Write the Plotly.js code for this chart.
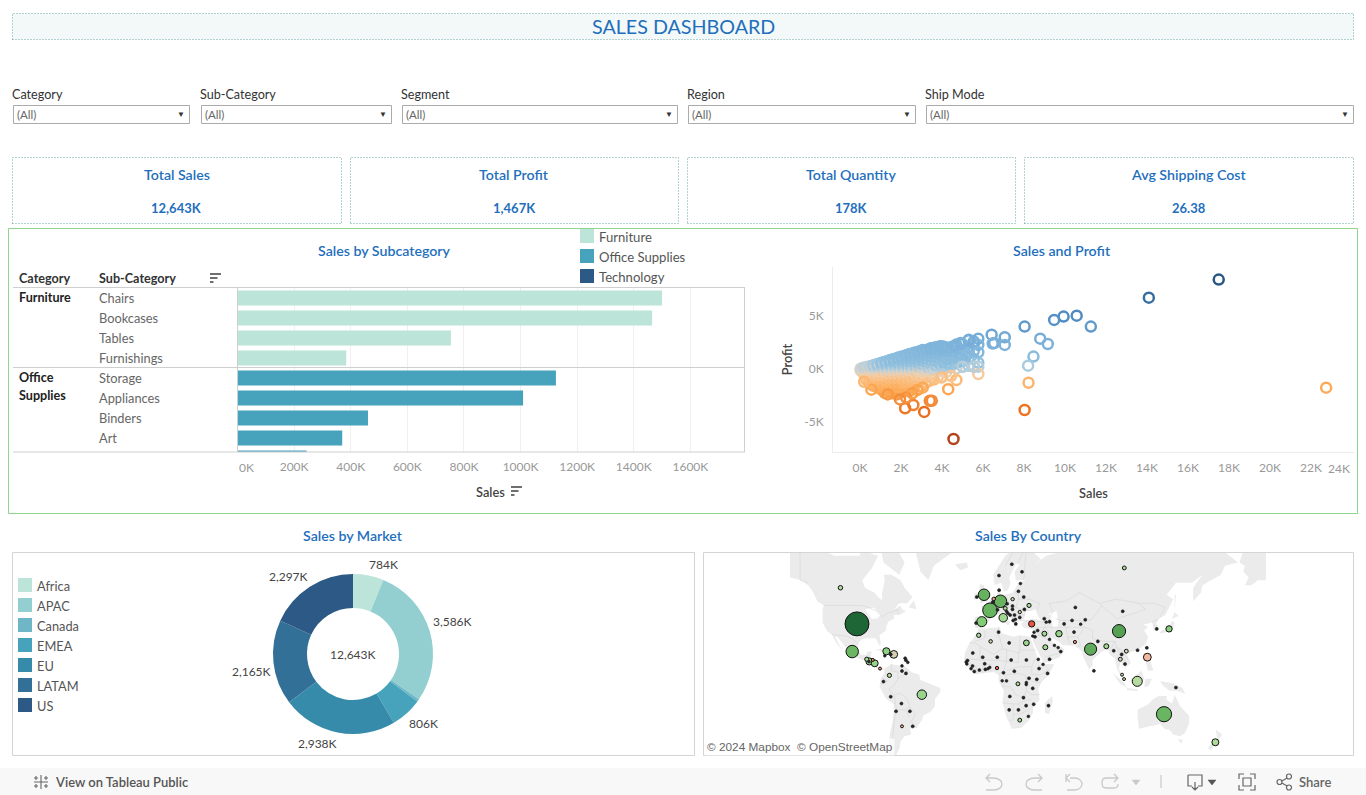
<!DOCTYPE html>
<html><head><meta charset="utf-8">
<script src="https://cdn.plot.ly/plotly-3.0.1.min.js"></script>
<style>html,body{margin:0;padding:0;background:#fff;overflow:hidden}#chart{width:1366px;height:795px}</style>
</head><body><div id="chart"></div>
<script>
// ---------- DATA ----------
const subCategories = ['Chairs','Bookcases','Tables','Furnishings','Storage','Appliances','Binders','Art','Paper'];
const subCategorySales = [1500,1465,754,384,1125,1009,461,370,244];
const subCategoryGroup = ['Furniture','Furniture','Furniture','Furniture','Office Supplies','Office Supplies','Office Supplies','Office Supplies','Office Supplies'];
const groupNames = ['Furniture','Office Supplies','Technology'];
const barTicks = [0,200,400,600,800,1000,1200,1400,1600];

const markets = ['Africa','APAC','Canada','EMEA','EU','LATAM','US'];
const marketSales = [784,3586,66,806,2938,2165,2297];
const marketLabels = ['784K','3,586K','','806K','2,938K','2,165K','2,297K'];

const filterNames = ['Category','Sub-Category','Segment','Region','Ship Mode'];
const kpiNames = ['Total Sales','Total Profit','Total Quantity','Avg Shipping Cost'];
const kpiValues = ['12,643K','1,467K','178K','26.38'];

// scatter: sales (K) per column with the profits (K) read in that column
const fanSales = [0.03,0.15,0.3,0.45,0.6,0.8,1.0,1.2,1.4,1.6,1.8,2.0,2.2,2.4,2.6,2.8,3.0,3.2,3.4,3.6,3.8,4.0,4.2,4.4,4.7,5.0,5.3,5.55];
const fanProfits = [
 [-0.12,0.02],[-0.35,-0.12,0.03,0.1],[-1.0,-0.7,-0.42,-0.18,0,0.15],[-1.3,-1.0,-0.72,-0.45,-0.2,0.02,0.22],
 [-1.55,-1.15,-0.85,-0.55,-0.28,-0.05,0.12,0.3],[-1.7,-1.35,-1.0,-0.72,-0.42,-0.15,0.08,0.25,0.42],
 [-1.9,-1.55,-1.2,-0.88,-0.55,-0.25,0,0.2,0.38,0.55],[-2.25,-1.85,-1.5,-1.15,-0.8,-0.45,-0.15,0.08,0.3,0.5,0.66],
 [-2.1,-1.75,-1.4,-1.05,-0.7,-0.35,-0.08,0.18,0.4,0.6,0.78],[-2.3,-1.9,-1.55,-1.15,-0.8,-0.45,-0.12,0.15,0.38,0.6,0.8,0.9],
 [-2.4,-2.0,-1.6,-1.2,-0.8,-0.45,-0.1,0.2,0.45,0.7,0.9,1.02],[-2.2,-1.8,-1.35,-0.95,-0.55,-0.2,0.1,0.35,0.6,0.85,1.05,1.15],
 [-2.05,-1.5,-1.1,-0.7,-0.3,0.02,0.3,0.55,0.8,1.05,1.25],[-2.1,-1.6,-1.0,-0.55,-0.2,0.1,0.4,0.7,0.95,1.2,1.38],
 [-1.8,-1.2,-0.65,-0.2,0.15,0.45,0.75,1.05,1.3,1.5],[-1.9,-1.3,-0.75,-0.25,0.15,0.5,0.85,1.15,1.4,1.58],
 [-1.6,-1.05,-0.5,-0.05,0.35,0.7,1.0,1.3,1.55,1.7],[-1.3,-0.8,-0.3,0.15,0.55,0.9,1.2,1.5,1.75],
 [-1.1,-0.6,-0.2,0.3,0.7,1.05,1.4,1.7,1.88],[-1.0,-0.4,0.1,0.5,0.9,1.3,1.6,1.95],
 [-0.7,-0.15,0.35,0.75,1.15,1.55,1.85,2.05],[-0.75,-0.2,0.2,0.6,1.0,1.4,1.75,2.1],
 [-0.3,0.3,0.8,1.25,1.6,1.9],[-0.6,0.15,0.6,1.0,1.4,1.85],[0.05,0.55,1.05,1.5,2.0,2.3],
 [0.2,0.75,1.3,1.8,2.35],[0.3,1.0,1.55,2.1,2.7],[0.25,0.95,1.7,2.35,2.6]];
const denseSales = [0.08,0.22,0.38,0.52,0.7,0.9,1.1,1.3,1.5,1.7,1.9,2.1,2.3,2.5,2.7,2.9,3.1,3.3,3.5,3.7,3.9,4.1,4.3,4.5];
const denseProfits = [
 [-0.2,-0.05,0.05],[-0.55,-0.25,-0.05,0.08,0.14],[-0.85,-0.55,-0.3,-0.1,0.05,0.2],[-1.15,-0.85,-0.6,-0.35,-0.12,0.1,0.26],
 [-1.45,-1.15,-0.9,-0.65,-0.35,-0.1,0.1,0.28,0.38],[-1.6,-1.3,-1.05,-0.8,-0.5,-0.25,-0.02,0.18,0.34,0.48],
 [-1.75,-1.4,-1.1,-0.75,-0.45,-0.15,0.05,0.28,0.45,0.6],[-1.95,-1.6,-1.3,-0.95,-0.6,-0.3,-0.02,0.22,0.42,0.6,0.7],
 [-2.0,-1.65,-1.3,-0.95,-0.6,-0.25,0.02,0.28,0.5,0.7,0.85],[-2.15,-1.75,-1.4,-1.0,-0.6,-0.25,0.05,0.3,0.55,0.75,0.92],
 [-2.2,-1.8,-1.4,-1.0,-0.65,-0.3,0.02,0.3,0.55,0.8,1.0,1.08],[-1.6,-1.2,-0.8,-0.4,-0.05,0.22,0.48,0.72,0.95,1.18],
 [-1.3,-0.9,-0.45,-0.1,0.2,0.45,0.7,0.95,1.18,1.32],[-1.4,-0.85,-0.35,0,0.3,0.6,0.88,1.12,1.38],
 [-1.0,-0.45,-0.05,0.3,0.6,0.9,1.2,1.45,1.55],[-0.9,-0.4,0.05,0.4,0.7,1.0,1.25,1.5,1.65],
 [-0.7,-0.2,0.2,0.5,0.85,1.15,1.4,1.65,1.75],[-0.5,-0.05,0.35,0.75,1.05,1.35,1.6,1.82],
 [-0.8,-0.3,0.2,0.6,0.95,1.25,1.55,1.8,1.95],[0.25,0.65,1.0,1.4,1.7,2.0],[0.1,0.5,0.9,1.3,1.65,1.95,2.15],
 [0.45,0.85,1.2,1.55,1.85,2.05],[0.35,0.75,1.1,1.45,1.75,2.0],[0.5,0.95,1.3,1.65,2.1]];
const thirdSales = [0.34,0.5,0.66,0.85,1.05,1.25,1.45,1.65,1.85,2.05,2.25,2.45,2.65,2.85,3.05,3.25,3.45,3.65,3.85,4.05,4.25];
const thirdProfits = [
 [-0.65,-0.25,-0.02,0.12],[-0.95,-0.5,-0.22,0.05,0.18],[-1.25,-0.95,-0.45,-0.2,0.02,0.2,0.33],[-1.2,-0.9,-0.6,-0.3,-0.05,0.14,0.32,0.44],
 [-1.65,-1.3,-0.95,-0.62,-0.32,0.1,0.28,0.46,0.58],[-1.7,-1.4,-1.05,-0.7,-0.4,-0.1,0.14,0.36,0.56,0.68],
 [-1.9,-1.55,-1.2,-0.85,-0.5,-0.15,0.1,0.34,0.56,0.74,0.82],[-2.0,-1.65,-1.25,-0.9,-0.5,-0.15,0.1,0.36,0.62,0.82,0.95],
 [-2.1,-1.7,-1.3,-0.9,-0.5,-0.15,0.12,0.38,0.62,0.88,1.05],[-1.7,-1.3,-0.9,-0.45,-0.1,0.18,0.44,0.7,0.98,1.12],
 [-1.2,-0.8,-0.4,-0.05,0.25,0.5,0.78,1.02,1.28],[-1.1,-0.65,-0.25,0.05,0.35,0.65,0.92,1.18,1.42],
 [-0.85,-0.3,0.05,0.38,0.68,0.98,1.25,1.5],[-0.6,-0.15,0.2,0.55,0.85,1.12,1.38,1.62],
 [-0.35,0.1,0.45,0.78,1.08,1.35,1.62,1.78],[-0.15,0.25,0.62,0.95,1.28,1.55,1.8],
 [0.1,0.45,0.82,1.18,1.5,1.78,1.95],[0.05,0.4,0.78,1.15,1.48,1.8,2.02],[0.25,0.6,0.98,1.35,1.7,2.08],
 [0.3,0.7,1.1,1.48,1.78,2.12],[0.55,0.95,1.35,1.7,2.0]];
const outlierSales = [17.5,14.09,11.26,10.57,9.93,9.47,8.79,9.16,8.46,8.2,8.22,8.03,8.03,22.74,4.56,7.06,7.06,6.42,6.47,6.55,5.77,5.77,5.77,5.77,5.77,5.77,5.3,4.9,4.63,4.0,5.2,5.0,5.55,4.7,4.45,4.3,3.96,3.5,3.4,3.13,2.6,2.2,2.25,1.95,3.06,2.8,2.55,0.55,0.2,1.35];
const outlierProfit = [8.43,6.73,4.0,5.03,4.94,4.63,2.86,2.36,1.17,0.31,-1.3,-3.87,4.0,-1.76,-6.6,2.99,2.27,3.24,2.4,2.45,2.86,2.27,1.58,0.6,0.22,-0.47,2.75,2.44,2.2,2.05,1.3,0.2,0.2,-1.04,-0.66,-1.9,-0.8,-3.0,-3.0,-4.05,-3.4,-3.7,-2.7,-2.87,-1.76,-2.0,-2.3,-1.95,-1.2,-2.4];
const salesTicks = [0,2,4,6,8,10,12,14,16,18,20,22,24];
const profitTicks = [-5,0,5];

// map: one entry per country
const countryNames = ['United States','Australia','France','China','Germany','Mexico','India','United Kingdom','Indonesia','Spain','Brazil','Italy','Philippines','Dominican Republic','Cuba','Honduras','Nicaragua','New Zealand','Turkey','Japan','Iran','Egypt','Bangladesh','Iraq','Saudi Arabia','Canada','Morocco','Guatemala','Ukraine','Austria','Colombia','Russia','South Africa','Dem. Rep. Congo','Nigeria','Thailand','Vietnam','Poland','Romania','Algeria','Netherlands','Pakistan','Argentina','Belize','Panama','Malaysia','Singapore',
 'Mauritania','Mali','Niger','Chad','Sudan','Senegal','Gambia','Guinea-Bissau','Guinea','Sierra Leone','Liberia','Ivory Coast','Ghana','Togo','Benin','Burkina Faso','Libya','Tunisia','Cameroon','Central African Rep.','Gabon','Congo','Uganda','Kenya','Somalia','Ethiopia','Tanzania','Angola','Zambia','Zimbabwe','Mozambique','Madagascar','Namibia','Botswana','Swaziland','Rwanda','Burundi','Djibouti','Eritrea',
 'Belgium','Sweden','Norway','Finland','Denmark','Ireland','Lithuania','Belarus','Moldova','Czech Republic','Hungary','Slovakia','Serbia','Bulgaria','Greece','Albania','Croatia','Bosnia','Slovenia','Macedonia','Portugal','Switzerland','Estonia',
 'Syria','Lebanon','Israel','Jordan','Kuwait','Qatar','UAE','Oman','Yemen','Georgia','Armenia','Azerbaijan','Turkmenistan','Uzbekistan','Tajikistan','Kyrgyzstan','Kazakhstan','Afghanistan','Mongolia','Nepal','Sri Lanka','Myanmar','Cambodia','Laos','Taiwan','Hong Kong','South Korea','Papua New Guinea',
 'El Salvador','Jamaica','Haiti','Martinique','Guadeloupe','Barbados','Trinidad','Venezuela','Guyana','Ecuador','Peru','Bolivia','Chile','Paraguay','Uruguay'];
const countryLon = [-98,134,2.5,100,10.4,-101.6,78.5,-2,113.8,-3.7,-49,12.5,121.4,-70.2,-75.8,-88.6,-84.6,172.8,34,137.8,54.6,30,90.4,43.6,44.3,-110.5,-6,-90.6,32,14,-73.5,104,25,23.6,7.8,101,105.5,19.6,25,3,5.3,66.7,-64,-86,-80.6,102.3,103.8,
 -10.5,-3,8,18.5,30,-14.5,-15.5,-15,-10.7,-11.8,-9.4,-5.5,-1,1,2.3,-1.5,17,9,12.7,20.9,11.7,15,32,37.9,46,39.6,34.8,17.5,27.8,29.8,35.5,46.7,17,24,31.5,30,29.9,42.6,39,
 4.6,19,9.3,26.7,9.4,-7.5,24,28,28.5,15.5,19.5,19.5,21,25,22,20,16,17.7,15,21.7,-8,8.2,25.5,
 38.5,35.8,34.8,36.5,47.5,51.2,54,56,47.5,43.5,45,47.5,58.5,64.5,71,74.5,67,66,102.8,84,81,96,104.5,102,121,114,128.5,143,
 -88.9,-77,-72.5,-61,-61.6,-59.6,-64,-64,-61,-78,-72.5,-64.4,-68.5,-58,-55.9];
const countryLat = [39,-25,46.5,34.6,51,21,22.7,54,-1,40.3,-11,42.5,17,19,21.2,13.9,12.5,-42.5,39,36,33,27,24.7,33,24,57,32,15.5,49,47.5,3.5,64.3,-29,-2.9,9,15.5,21.3,52,45.6,28,52.1,27.6,-33,15,8.6,4,0.7,
 20,17,17,15,15,14.5,13.4,12,10.5,8.5,6.4,7.5,8,8.5,9.5,12.2,27,34,5.5,6.6,-0.6,-0.7,1.3,0.5,5,8.6,-6.3,-12.3,-13.2,-19,-18,-19,-22,-22,-26.5,-2,-3.4,11.7,15.4,
 50.6,65.5,61.7,63,56,53,55.5,53,47,49.8,47,48.7,44,42.7,39,41,45,44,46,41.6,39.5,46.8,58.7,
 35,33.9,31.5,31,29.3,25.3,23.8,21,15.5,42,40,40.3,39,41,38.8,41.4,48,34,46,28,6.9,21.6,12,19,23.6,22,36,-5.7,
 13.7,18,19,14.7,16.2,13.2,10.6,6.8,5,-1.2,-12.5,-17.5,-23,-23,-33];
const countrySales = [2297,925,858,700,628,622,589,528,404,400,361,289,246,240,206,200,190,195,158,160,165,135,100,100,100,80,75,70,70,60,70,60,60,60,45,60,60,45,45,50,50,40,35,35,35,35,35,
 30,30,30,30,30,30,25,25,30,25,30,30,30,25,25,30,30,30,30,30,25,25,30,30,30,30,30,30,30,30,30,30,30,30,25,25,25,25,25,
 30,30,30,30,30,30,30,30,30,30,30,30,30,30,30,30,30,30,25,25,30,30,25,
 30,25,25,30,25,25,25,30,30,30,25,30,30,30,25,30,30,30,30,30,30,30,30,30,30,30,30,30,
 25,25,30,30,30,25,25,30,30,30,30,30,30,30,30];
const countryProfit = [286,103,109,150,107,102,129,111,15,55,35,30,-15,2,45,40,38,20,-99,50,40,35,30,30,30,18,25,25,25,20,22,22,25,22,-80,3,4,5,3,5,-30,-40,-30,-50,-50,8,8,
 5,5,5,5,5,5,5,5,5,5,5,5,5,5,5,5,5,5,5,5,5,5,5,5,5,5,5,5,5,5,5,5,5,5,5,5,5,
 5,5,5,5,5,5,5,5,5,5,5,5,5,5,5,5,5,5,5,5,5,5,5,
 5,5,5,5,5,5,5,5,5,5,5,5,5,5,5,5,5,5,5,5,5,5,5,5,5,5,5,5,
 5,5,5,5,5,5,5,5,5,5,5,5,5,5,5];

// land and border outlines, lon/lat
const landOutlines = [
 [[-148.6,72],[-140,70],[-128,70],[-115,68],[-108,68],[-96,68],[-95,69],[-90,69],[-82,68],[-87,64],[-94,60],[-92,57],[-85,55],[-82,53],[-79,51.5],[-79,55],[-77,60],[-78,62],[-72,62],[-65,60],[-62,57],[-56,53],[-60,50],[-66,50],[-70,47],[-65,49],[-64,47],[-61,46],[-66,44],[-70,44],[-70,42],[-74,40.5],[-76,37],[-76,35],[-81,32],[-80,27],[-81,25],[-82.5,28],[-84,30],[-89,30],[-94,29.5],[-97,27],[-98,22],[-95,18.5],[-91,18.5],[-90,21],[-87,21],[-88,16],[-84,15.5],[-83.5,11],[-81,9],[-77.5,8.5],[-78.5,7.5],[-81,7.5],[-85,10],[-88,13],[-92,14.5],[-96,16],[-102,18],[-105,20],[-106,23],[-109,27],[-113,31],[-114.5,31],[-112,26],[-110,23],[-112,25],[-115,29],[-117,32.5],[-120.5,34.5],[-122.5,37.5],[-124,40],[-124,47],[-123,49],[-128,51],[-131,55],[-135,58],[-140,60],[-148.6,61]],
 [[191,66],[193,68.5],[197,71],[211,72],[211,60],[205,60],[200,58],[195,58],[198,61],[194,63],[195,65]],
 [[-80,73],[-68,70],[-62,66],[-66,62],[-72,64],[-78,66],[-80,70]],[[-117,72],[-105,73],[-102,69],[-115,69]],
 [[-54,72],[-53,68],[-50,63],[-44,60],[-40,65],[-30,68],[-22,70],[-20,75],[-54,75]],
 [[-24,65.5],[-15,66],[-14,64.5],[-20,63.5]],[[-59,48],[-55,51.5],[-53,47]],
 [[-85,22],[-80,23],[-74,20],[-77,20],[-82,22]],[[-74,19.5],[-69,19.5],[-69,18.3],[-74,18]],
 [[-77,8.5],[-72,12],[-68,11],[-62,10.5],[-57,6],[-51,4],[-50,0],[-44,-2.5],[-35,-6],[-35,-9],[-39,-14],[-39,-19],[-42,-23],[-48,-26],[-49,-29],[-53,-34],[-58,-34.5],[-57,-38],[-62,-39],[-65,-42],[-66,-46],[-69,-50],[-69,-55],[-74,-52],[-74,-44],[-73,-37],[-71,-30],[-70,-18],[-76,-14],[-81,-5],[-80,1],[-78,4]],
 [[-6,36],[10,37],[11,33.5],[20,31],[25,32],[33,31],[34,28],[37,21],[39,15],[43,12],[51,12],[47,4],[41,-2],[39,-7],[40,-15],[35,-20],[35,-24],[32,-29],[26,-34],[19,-34.5],[15,-27],[12,-17],[13,-8],[9,-1],[9,4],[5,6],[-3,5],[-8,4.5],[-13,8.5],[-17,14.5],[-16.5,20],[-13,27],[-10,30]],
 [[49.5,-12],[50,-16],[47,-25],[44,-24],[44,-17]],
 [[-9,37],[-9,43],[-2,43.5],[-1,46],[-4.5,48.5],[2,51],[8,54],[8.5,57],[10.5,57],[10,54],[14,54],[20,55],[24,59],[30,60],[22,60],[21,63],[25,65.5],[22,65.5],[17,61],[18,59],[16,56],[13,55.5],[11,59],[6,58],[5,62],[14,68],[25,71],[32,70],[41,67],[35,65],[45,68],[55,69],[68,69],[70,73],[85,74],[105,78],[112,74],[130,72],[150,72],[170,70],[180,69],[190,66],[180,65],[177,62],[170,60],[163,58],[162,55],[156,51],[156,57],[163,62],[155,59],[143,59],[136,54],[141,52],[135,44],[130,42],[128,39],[129,35.5],[126,34.5],[126,37],[125,40],[121,39],[118,39],[122,37],[119,35],[122,31],[120,26],[114,22],[110,21],[106,19],[109,13],[105,9],[101,13.5],[100,8],[104,1.5],[101,3],[98,10],[97,16],[94,18],[91,22.5],[87,21],[80,15],[80,11],[77.5,8],[73,17],[72,21],[67,25],[57,25.5],[56,27],[50,30],[48,30],[51,25],[56,24.5],[59,22],[55,17],[45,13],[43,13],[39,21],[35,28],[35,36],[28,36.5],[26,39],[29,41],[35,42],[41,41],[38,44.5],[37,47],[33,46],[30,46],[28,42],[26,40.5],[23,40.5],[23,37],[20,40],[19,42],[14,45],[12.5,44],[16,41],[18,40],[16,38],[12,42],[9,44.5],[4,43.5],[3,42],[0,39],[-2,37],[-5,36]],
 [[-5,50],[1,51],[1.5,53],[-2,56],[-2,58],[-5,58.5],[-6,56],[-3,54],[-5,52]],[[-10,52],[-6,52],[-6,55],[-9,54.5]],
 [[130.5,33],[136,34],[140,35.5],[142,39.5],[140,41],[138,37],[132,35]],[[140,42],[145,43.5],[142,45.5]],[[142,46],[143,54],[142,54]],
 [[120,18],[122,18],[124,13],[126,7],[122,7],[120,14]],[[95,5.5],[104,-2],[106,-6],[101,-3]],[[109,1],[117,7],[119,1],[116,-4],[110,-3]],
 [[106,-6],[114,-7],[114,-8.5],[106,-7.5]],[[120,1],[125,1],[122,-5],[119,-5]],[[131,-1],[141,-2.5],[148,-6],[150,-10.5],[144,-8],[138,-8],[133,-4]],
 [[114,-22],[122,-18],[126,-14],[130,-12],[136,-12],[136,-15],[140,-17.5],[142,-11],[146,-19],[153,-26],[153,-31],[150,-37],[146,-39],[141,-38],[138,-35],[135,-35],[131,-31.5],[124,-33],[115,-34.5],[114,-27]],
 [[144.5,-41],[148,-41],[147,-43.5]],[[173,-35],[178,-38],[175,-41.5],[174,-39]],[[172.5,-41],[174,-42],[170,-46.5],[167,-46],[170,-43]],[[80,9.5],[82,7.5],[80.5,6]]
];
const waterOutlines = [[[47,45],[53,46],[54,40],[54,37],[50,37],[49,41]],[[-92,47],[-85,48],[-80,44],[-83,42],[-87,42]]];
const borderLines = [
 [[-123,49],[-95,49],[-89,48],[-83,46],[-79,43],[-75,45],[-70,46],[-67,47],[-67,45]],[[-141,70],[-141,60],[-135,59]],[[-117,32.5],[-108,31.5],[-106,31.5],[-101,29.5],[-97,26]],[[-92,14.5],[-91,17.5],[-89,18]],
 [[-72,12],[-72,7],[-67,6],[-67,1],[-70,-4],[-74,-7],[-70,-11],[-69,-17],[-70,-18]],[[-67,1],[-60,5],[-60,8]],[[-69,-11],[-65,-10],[-60,-14],[-58,-20],[-54,-25],[-57,-30],[-53,-34]],[[-69,-17],[-68,-22],[-70,-30],[-71,-40],[-72,-50]],[[-68,-22],[-62,-22],[-58,-20]],[[-58,-27],[-62,-22]],[[-80,-3],[-75,-1],[-79,1.5]],
 [[-9,28],[-2,30],[-1,33],[-2,35]],[[-13,27],[-9,27],[5,19],[12,23],[25,20],[25,31]],[[12,23],[10,30],[8,33],[9,37]],[[25,22],[37,22]],[[-17,16],[-5,15],[-5,25]],[[-5,15],[4,15],[15,14],[24,13],[24,20]],[[15,14],[15,23]],[[24,10],[34,10],[36,15],[39,15]],[[15,7],[24,10]],[[3,6],[3,12]],[[9,4],[13,7],[15,14]],[[-8,4.5],[-8,10],[-12,12.5]],[[-3,5],[-3,11],[3,12]],[[34,10],[34,4],[41,4],[47,8],[43,12]],[[12,-5],[18,-5],[22,-11],[28,-13],[30,-8],[30,3],[24,5],[15,4],[14,-1],[12,-5]],[[34,-1],[41,-2]],[[30,-8],[34,-11],[40,-11]],[[12,-17],[24,-18],[30,-15],[34,-15]],[[20,-18],[20,-29],[17,-29]],[[20,-25],[25,-25],[32,-22]],[[24,-18],[29,-22]],
 [[-2,43],[3,42.5]],[[-9,42],[-7,37]],[[2,51],[8,49],[7,44]],[[6,54],[6,50],[8,48],[13,48],[15,51],[14,54]],[[13,48],[17,48],[22,48],[24,52],[24,54],[21,55]],[[22,48],[30,46]],[[24,52],[32,52],[40,50],[38,47]],[[28,60],[30,70]],[[14,65],[20,69]],[[24,66],[29,70]],[[21,44],[29,44]],[[14,45],[21,42]],
 [[26,41],[44,40],[44,37],[36,36.5]],[[44,37],[39,32],[35,29.5]],[[39,32],[47,29],[48,30]],[[44,37],[46,35],[48,30]],[[46,39],[48,39]],[[44,37],[60,37],[61,31],[63,26]],[[61,31],[69,31],[74,37],[66,37],[60,37]],[[52,24],[55,20],[52,19],[44,17]],[[47,42],[50,46],[47,50],[60,51],[70,55],[85,50],[98,52],[115,50],[127,50],[135,48],[131,43]],[[87,49],[80,42],[74,40],[70,41],[56,41],[52,42]],[[74,37],[80,35],[80,30],[88,28],[97,28],[98,24],[102,22],[107,22]],[[85,50],[98,42],[112,45],[120,47],[115,50]],[[69,31],[71,25],[68,24]],[[88,26],[92,22]],[[97,28],[93,22]],[[98,24],[101,20],[98,15]],[[101,20],[105,14],[103,11]],[[102,22],[105,18],[107,15]],[[125,40],[130,42]],[[126,38],[129,38]]
];

// ---------- HELPERS ----------
const W=1366,H=795;
const X=x=>x/W, Y=y=>1-y/H;
const FONT='Lato, "Noto Sans", sans-serif';
const BLUE='#1f6fbd';
const DOTTED='1px,2px';
const groupColor={'Furniture':'#bce4d8','Office Supplies':'#46a3bb','Technology':'#2c5985'};
const marketColors=['#bce4d8','#93cfd0','#6fb7c7','#46a3bb','#378baa','#327098','#2c5985'];
const shapes=[],annotations=[];
function rect(x0,y0,x1,y1,o={}){shapes.push({type:'rect',xref:'paper',yref:'paper',x0:X(x0),x1:X(x1),y0:Y(y1),y1:Y(y0),layer:o.layer||'below',fillcolor:o.fill||'rgba(0,0,0,0)',line:{color:o.color||'rgba(0,0,0,0)',width:o.width===undefined?1:o.width,dash:o.dash||'solid'}});}
function hline(x0,x1,y,c,w){shapes.push({type:'line',xref:'paper',yref:'paper',x0:X(x0),x1:X(x1),y0:Y(y),y1:Y(y),line:{color:c,width:w||1},layer:'above'});}
function vline(x,y0,y1,c,w){shapes.push({type:'line',xref:'paper',yref:'paper',x0:X(x),x1:X(x),y0:Y(y0),y1:Y(y1),line:{color:c,width:w||1},layer:'above'});}
function txt(x,y,t,o={}){const a=o.a||'left';annotations.push({xref:'paper',yref:'paper',x:X(a==='left'?x-2:x),y:Y(y-0.2),text:t,showarrow:false,xanchor:a,yanchor:'middle',font:{family:o.f||FONT,size:o.s||12,color:o.c||'#555',weight:o.w||400},bgcolor:o.bg});}
function pxPath(str,color,width,fill){let i=0;const path=str.replace(/-?\d+(\.\d+)?/g,v=>(i++%2===0?X(+v):Y(+v)).toFixed(6));
 shapes.push({type:'path',xref:'paper',yref:'paper',path,line:{color,width:width===undefined?1.3:width},fillcolor:fill||'rgba(0,0,0,0)',layer:'above'});}
function circ(cx,cy,r,c){shapes.push({type:'circle',xref:'paper',yref:'paper',x0:X(cx-r),x1:X(cx+r),y0:Y(cy+r),y1:Y(cy-r),line:{color:c,width:1.2},layer:'above'});}
function sortIcon(x,y){hline(x,x+11,y,'#555',1.7);hline(x,x+7.5,y+4,'#555',1.7);hline(x,x+3.5,y+8,'#555',1.7);}
const merc=lat=>Math.log(Math.tan(Math.PI/4+lat*Math.PI/360));
function flatten(list){const xs=[],ys=[];list.forEach(p=>{p.forEach(c=>{xs.push(c[0]);ys.push(merc(c[1]));});xs.push(null);ys.push(null);});return {xs,ys};}
function domY(top,bot){return [1-bot/H,1-top/H];}

// ---------- PAGE FURNITURE ----------
rect(12.5,13.5,1353.5,39.5,{fill:'#f3f9f8',color:'#6aa5a5',dash:DOTTED});
txt(683,27,'SALES DASHBOARD',{a:'center',s:19.7,c:BLUE});
const filterBoxes=[[13,190],[201,392],[402,678],[688,916],[926,1354]];
const filterLabelX=[12,200,401,687,925];
filterNames.forEach((n,i)=>{const b=filterBoxes[i];
 txt(filterLabelX[i],95,n,{s:12.6,c:'#333'});
 rect(b[0]+0.5,105.5,b[1]-0.5,123.5,{color:'#ababab',width:1});
 txt(b[0]+4,114.5,'(All)',{s:11.5,c:'#666'});
 txt(b[1]-9,114.5,'▼',{a:'center',s:8,c:'#333'});});
const kpiBoxes=[[12,342],[350,679],[687,1016],[1024,1354]];
kpiNames.forEach((n,i)=>{const b=kpiBoxes[i],c=(b[0]+b[1])/2;
 rect(b[0]+0.5,157.5,b[1]-0.5,223.5,{color:'#6aa5a5',dash:DOTTED});
 txt(c-0.5,175,n,{a:'center',s:14.2,c:BLUE,w:600});
 txt(c-0.5,208.5,kpiValues[i],{a:'center',s:13,c:BLUE,w:700});});
rect(8.5,228.5,1357.5,513.5,{color:'#8fd58f'});
rect(12.5,552.5,694.5,755.5,{color:'#d4d4d4'});
rect(703.5,552.5,1353.5,755.5,{color:'#d4d4d4'});

// titles
txt(384.5,250.5,'Sales by Subcategory',{a:'center',s:14.2,c:BLUE,w:600});
txt(1062,250.5,'Sales and Profit',{a:'center',s:14.2,c:BLUE,w:600});
txt(353,535.5,'Sales by Market',{a:'center',s:14.2,c:BLUE,w:600});
txt(1028,535.5,'Sales By Country',{a:'center',s:14.2,c:BLUE,w:600});

// top legend
groupNames.forEach((g,i)=>{const y=229+20*i;rect(580,y,594,y+14,{fill:groupColor[g]});txt(599,y+8,g,{s:13.1,c:'#555'});});

// bar table headers and rows
txt(19,279,'Category',{s:12.6,c:'#333',w:700});
txt(99,279,'Sub-Category',{s:12.6,c:'#333',w:700});
sortIcon(210,274);
txt(19,298,'Furniture',{s:12.6,c:'#222',w:700});
txt(19,378,'Office',{s:12.6,c:'#222',w:700});
txt(19,396,'Supplies',{s:12.6,c:'#222',w:700});
subCategories.slice(0,8).forEach(s=>{annotations.push({xref:'paper',yref:'y',x:X(97),y:s,text:s,showarrow:false,xanchor:'left',yanchor:'middle',font:{family:FONT,size:12.8,color:'#666'}});});
hline(13,745,287.5,'#cfcfcf',1.2);hline(13,745,367.5,'#cfcfcf',1.2);hline(13,745,452,'#cfcfcf',1.2);
vline(237.5,288,452,'#cfcfcf',1);vline(744.5,288,452,'#cfcfcf',1);
txt(490,492.5,'Sales',{a:'center',s:12.8,c:'#444',w:600});sortIcon(511,487);
annotations.push({xref:'x',yref:'paper',x:0,y:Y(467),text:'0K',showarrow:false,xanchor:'center',xshift:9,yanchor:'middle',font:{family:FONT,size:12,color:'#999'}});
annotations.push({xref:'x2',yref:'paper',x:24,y:Y(468),text:'24K',showarrow:false,xanchor:'center',xshift:-13,yanchor:'middle',font:{family:FONT,size:12,color:'#999'}});

// donut legend, centre and value labels
markets.forEach((m,i)=>{const y=578+20*i;rect(18,y,32,y+14,{fill:marketColors[i]});txt(37,y+8,m,{s:12.8,c:'#555'});});
txt(353,654.5,'12,643K',{a:'center',s:12,c:'#444'});
const pieLabelSpots=[[383,565],[452,622],null,[423,724],[317,744],[251,672],[288,577]];
marketLabels.forEach((t,i)=>{if(pieLabelSpots[i])txt(pieLabelSpots[i][0],pieLabelSpots[i][1],t,{a:'center',s:12,c:'#444'});});

// map credit
txt(707,747,'© 2024 Mapbox  © OpenStreetMap',{s:11.8,c:'#666',bg:'rgba(255,255,255,0.75)',f:'"Liberation Sans", sans-serif'});

// toolbar
rect(0,768,1366,795,{fill:'#f8f8f8'});
txt(55,782,'View on Tableau Public',{s:13,c:'#555',w:600});
txt(1299,782,'Share',{s:13,c:'#666',w:600});
pxPath('M 41 775 L 41 789 M 34 782 L 48 782 M 36 776 L 36 780 M 34 778 L 38 778 M 46 776 L 46 780 M 44 778 L 48 778 M 36 784 L 36 788 M 34 786 L 38 786 M 46 784 L 46 788 M 44 786 L 48 786','#666',1.1);
const gray='#c9c9c9';
pxPath('M 986 778 L 993 778 C 999 778 1002 781 1002 784 C 1002 787 999 790 994 790 L 986 790 M 990 774 L 986 778 L 990 782',gray);
pxPath('M 1042 778 L 1035 778 C 1029 778 1026 781 1026 784 C 1026 787 1029 790 1034 790 L 1042 790 M 1038 774 L 1042 778 L 1038 782',gray);
pxPath('M 1070 778 L 1075 778 C 1079 778 1082 781 1082 784 C 1082 787 1079 790 1075 790 L 1067 790 M 1070 774 L 1066 778 L 1070 782 M 1066 774 L 1066 782',gray);
pxPath('M 1118 778 L 1106 778 C 1103 778 1102 780 1102 783 C 1102 786 1103 788 1106 788 L 1114 788 C 1117 788 1118 786 1118 784 M 1114 774 L 1118 778 L 1114 782',gray);
pxPath('M 1132 780 L 1140 780 L 1136 785 Z',gray,0.5,gray);
vline(1161,775,788,'#c0c0c0',1);
pxPath('M 1188 775 L 1202 775 L 1202 786 L 1198 786 M 1192 786 L 1188 786 L 1188 775 M 1195 782 L 1195 790 M 1192 787 L 1195 790 L 1198 787','#666',1.2);
pxPath('M 1208 780 L 1216 780 L 1212 785 Z','#555',0.5,'#555');
pxPath('M 1239 779 L 1239 774 L 1244 774 M 1250 774 L 1255 774 L 1255 779 M 1255 785 L 1255 790 L 1250 790 M 1244 790 L 1239 790 L 1239 785 M 1243 778 L 1251 778 L 1251 786 L 1243 786 Z','#666',1.2);
circ(1279.5,782,2.5,'#666');circ(1289,776.5,2.5,'#666');circ(1289,787.5,2.5,'#666');
pxPath('M 1282 781 L 1287 778 M 1282 783 L 1287 786','#666',1.1);

// ---------- TRACES ----------
const tickFont={family:FONT,size:12,color:'#999'};
const bar={type:'bar',orientation:'h',y:subCategories,x:subCategorySales,xaxis:'x',yaxis:'y',width:0.75,
 marker:{color:subCategoryGroup.map(g=>groupColor[g])},hoverinfo:'x+y',showlegend:false};

const fanX=[],fanY=[];
[[fanSales,fanProfits],[denseSales,denseProfits],[thirdSales,thirdProfits]].forEach(([ss,pp])=>ss.forEach((s,i)=>pp[i].forEach(p=>{fanX.push(s);fanY.push(p);})));
const scatterX=fanX.concat(outlierSales),scatterY=fanY.concat(outlierProfit);
const scatterScale=[[0,'#b5431c'],[0.173,'#ec6f1e'],[0.307,'#fba54f'],[0.373,'#fdbb78'],[0.42,'#f2cfa9'],[0.44,'#d3d3cf'],[0.46,'#a9cbe0'],[0.48,'#8fc0de'],[0.607,'#7ab0da'],[0.773,'#4f8bc2'],[0.907,'#33689c'],[1,'#285785']];
const scatter={type:'scatter',mode:'markers',x:scatterX,y:scatterY,xaxis:'x2',yaxis:'y2',showlegend:false,
 marker:{symbol:'circle-open',size:10,color:scatterY,cmin:-6.6,cmax:8.4,colorscale:scatterScale,showscale:false,line:{width:2.5}},
 hovertemplate:'Sales %{x}K<br>Profit %{y}K<extra></extra>'};

const pie={type:'pie',labels:markets,values:marketSales,textinfo:'none',sort:false,direction:'clockwise',rotation:0,hole:0.575,
 marker:{colors:marketColors,line:{width:0}},domain:{x:[X(273),X(433)],y:[Y(734),Y(574)]},showlegend:false,hoverinfo:'label+value'};

const land=flatten(landOutlines),water=flatten(waterOutlines),border=flatten(borderLines);
const landTrace={type:'scatter',mode:'lines',x:land.xs,y:land.ys,xaxis:'x3',yaxis:'y3',fill:'toself',fillcolor:'#ebebeb',line:{width:0,color:'#ebebeb'},hoverinfo:'skip',showlegend:false};
const waterTrace={type:'scatter',mode:'lines',x:water.xs,y:water.ys,xaxis:'x3',yaxis:'y3',fill:'toself',fillcolor:'#ffffff',line:{width:0,color:'#fff'},hoverinfo:'skip',showlegend:false};
const borderTrace={type:'scatter',mode:'lines',x:border.xs,y:border.ys,xaxis:'x3',yaxis:'y3',line:{width:0.7,color:'#d8d8d8'},hoverinfo:'skip',showlegend:false};
const greenRed=[[0,'#e8543f'],[0.13,'#f08a70'],[0.22,'#f0b8a0'],[0.259,'#d9cdb5'],[0.30,'#b4dc9f'],[0.40,'#82cc78'],[0.55,'#66b15e'],[0.65,'#55a054'],[1,'#1f6637']];
// the tiniest markets read as black dots in the reference
const isDot=countrySales.map(v=>v<=30);
const pick=(arr,want)=>arr.filter((_,i)=>isDot[i]===want);
const bubbles={type:'scatter',mode:'markers',x:pick(countryLon,false),y:pick(countryLat,false).map(merc),text:pick(countryNames,false),xaxis:'x3',yaxis:'y3',showlegend:false,
 marker:{opacity:1,size:pick(countrySales,false),sizemode:'area',sizeref:8,color:pick(countryProfit,false),cmin:-100,cmax:286,colorscale:greenRed,showscale:false,line:{color:'#111',width:1}},
 hovertemplate:'%{text}<extra></extra>'};
const dots={type:'scatter',mode:'markers',x:pick(countryLon,true),y:pick(countryLat,true).map(merc),text:pick(countryNames,true),xaxis:'x3',yaxis:'y3',showlegend:false,
 marker:{opacity:1,size:pick(countrySales,true),sizemode:'area',sizeref:6.5,color:'#222',line:{color:'#222',width:0.6}},
 hovertemplate:'%{text}<extra></extra>'};

// ---------- LAYOUT ----------
const layout={width:W,height:H,margin:{l:0,r:0,t:0,b:0},paper_bgcolor:'#ffffff',plot_bgcolor:'rgba(0,0,0,0)',font:{family:FONT},showlegend:false,bargap:0.25,
 shapes,annotations,
 xaxis:{domain:[X(237.5),X(745)],range:[0,1793],tickvals:barTicks,ticktext:barTicks.map(v=>v===0?'':v+'K'),tickfont:tickFont,ticklabelstandoff:6,showline:false,showgrid:true,gridcolor:'#f0f0f0',gridwidth:1,zeroline:false,ticks:'',ticklen:0,anchor:'y',automargin:false},
 yaxis:{domain:domY(288,452),type:'category',categoryorder:'array',categoryarray:subCategories,range:[7.7,-0.5],showticklabels:false,showgrid:false,zeroline:false,ticks:'',anchor:'x',automargin:false},
 xaxis2:{domain:[X(833),X(1354)],range:[-1.32,24.1],tickvals:salesTicks,ticktext:salesTicks.map(v=>v===24?'':v+'K'),tickfont:tickFont,ticklabelstandoff:5,showline:true,linecolor:'#ececec',showgrid:false,zeroline:false,anchor:'y2',automargin:false,
  title:{text:'Sales',font:{family:FONT,size:12.8,color:'#444',weight:600},standoff:14}},
 yaxis2:{domain:domY(267,452),range:[-7.83,9.62],tickvals:profitTicks,ticktext:profitTicks.map(v=>v+'K'),tickfont:tickFont,ticklabelstandoff:6,showline:true,linecolor:'#ececec',showgrid:false,zeroline:false,anchor:'x2',automargin:false,
  title:{text:'Profit',font:{family:FONT,size:12.8,color:'#444',weight:600},standoff:8}},
 xaxis3:{domain:[X(704),X(1353)],range:[-213.6,276.8],visible:false,anchor:'y3',fixedrange:true},
 yaxis3:{domain:domY(553,755),range:[-0.989,1.675],visible:false,anchor:'x3',fixedrange:true}
};
Plotly.newPlot('chart',[bar,scatter,landTrace,waterTrace,borderTrace,bubbles,dots,pie],layout,{displayModeBar:false,staticPlot:true});
</script></body></html>
